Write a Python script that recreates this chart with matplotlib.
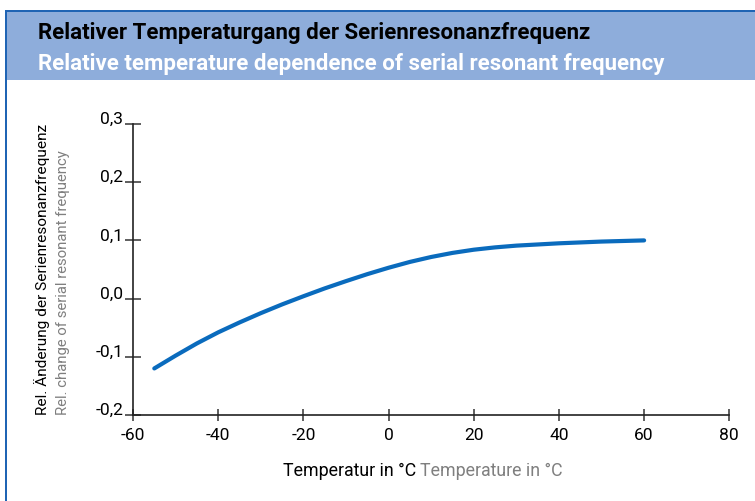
import matplotlib
matplotlib.use("Agg")
import matplotlib.pyplot as plt
from matplotlib.patches import Rectangle
from matplotlib.ticker import FixedLocator, FuncFormatter

# curve (temperature in degC, relative change)
temperature = [-55, -50, -45, -40, -35, -30, -25, -20, -15, -10, -5, 0,
               5, 10, 15, 20, 25, 30, 35, 40, 45, 50, 55, 60]
rel_change = [-0.120, -0.098, -0.077, -0.058, -0.041, -0.025, -0.010, 0.004,
              0.0175, 0.030, 0.042, 0.053, 0.063, 0.0715, 0.0785, 0.084, 0.088,
              0.091, 0.093, 0.095, 0.0965, 0.098, 0.099, 0.100]

x_ticks = [-60, -40, -20, 0, 20, 40, 60, 80]
y_ticks = [-0.2, -0.1, 0.0, 0.1, 0.2, 0.3]

title_de = "Relativer Temperaturgang der Serienresonanzfrequenz"
title_en = "Relative temperature dependence of serial resonant frequency"
xlabel_de = "Temperatur in °C"
xlabel_en = "Temperature in °C"
ylabel_de = "Rel. Änderung der Serienresonanzfrequenz"
ylabel_en = "Rel. change of serial resonant frequency"

plt.rcParams['font.family'] = ['Roboto', 'DejaVu Sans']

W, H = 755, 501
fig = plt.figure(figsize=(W / 100, H / 100), dpi=100)

# header band and frame lines
band = "#8eaddb"
frame = "#1f64b4"
fig.patches.append(Rectangle((5 / W, 1 - 80 / H), 1, 68 / H, transform=fig.transFigure,
                             facecolor=band, edgecolor="none", zorder=0))
fig.patches.append(Rectangle((5 / W, 1 - 12 / H), 1, 2 / H, transform=fig.transFigure,
                             facecolor=frame, edgecolor="none", zorder=1))
fig.patches.append(Rectangle((5 / W, 0), 1.6 / W, 1 - 10 / H, transform=fig.transFigure,
                             facecolor=frame, edgecolor="none", zorder=1))

fig.text(38 / W, 1 - 33 / H, title_de, fontsize=16, fontweight="bold",
         color="black", va="center", ha="left")
fig.text(38 / W, 1 - 64 / H, title_en, fontsize=16, fontweight="bold",
         color="white", va="center", ha="left")

ax = fig.add_axes([133 / W, 1 - 415 / H, (729.3 - 133) / W, (415 - 124) / H])
ax.plot(temperature, rel_change, color="#0a6bbd", lw=3, solid_capstyle="round")

ax.set_xlim(-60, 80)
ax.set_ylim(-0.2, 0.3)
ax.spines[['top', 'right']].set_visible(False)
for s in ['left', 'bottom']:
    ax.spines[s].set_linewidth(1.2)
    ax.spines[s].set_color("#222222")

ax.xaxis.set_major_locator(FixedLocator(x_ticks))
ax.yaxis.set_major_locator(FixedLocator(y_ticks))
ax.xaxis.set_major_formatter(FuncFormatter(lambda v, p: f"{v:.0f}"))
ax.yaxis.set_major_formatter(FuncFormatter(lambda v, p: f"{v:.1f}".replace(".", ",")))
ax.tick_params(axis="x", direction="inout", length=8, width=1.1, color="#333333",
               labelsize=12.5, pad=5)
ax.tick_params(axis="y", direction="inout", length=12, width=1.1, color="#333333",
               labelsize=12.5, pad=1)
for lab in ax.get_yticklabels():
    lab.set_va("baseline")

# axis titles, German in black, English in grey
fig.text(416 / W, 1 - 476 / H, xlabel_de, fontsize=12.8, color="black",
         ha="right", va="baseline")
fig.text(420 / W, 1 - 476 / H, xlabel_en, fontsize=12.8, color="#7f7f7f",
         ha="left", va="baseline")
fig.text(42 / W, 1 - 415 / H, ylabel_de, fontsize=11.1, color="black",
         rotation=90, ha="center", va="bottom")
fig.text(63 / W, 1 - 415 / H, ylabel_en, fontsize=10.7, color="#7f7f7f",
         rotation=90, ha="center", va="bottom")

fig.savefig("out.png", dpi=100)
